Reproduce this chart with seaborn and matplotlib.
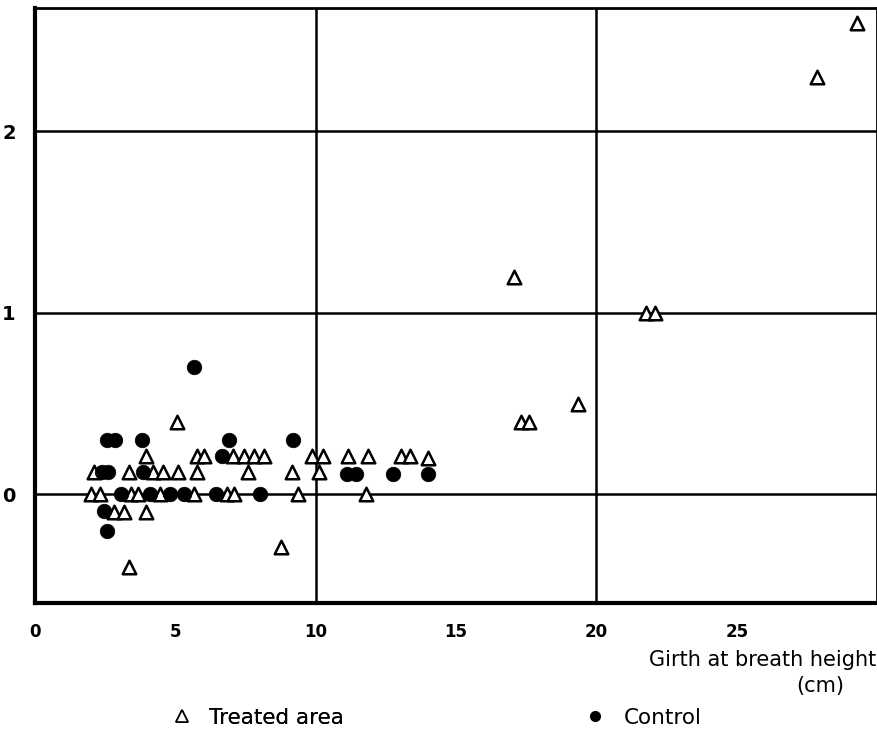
import pandas as pd
import seaborn as sns
import matplotlib.pyplot as plt
from matplotlib.lines import Line2D

# treated area (open triangles)
treated_x = [2.0, 2.3, 3.4, 3.65, 4.45, 5.65, 6.85, 7.1, 9.35, 11.8,
             2.1, 3.35, 4.2, 4.55, 5.1, 5.75, 7.6, 9.15, 10.1,
             3.95, 5.75, 6.0, 7.05, 7.45, 7.8, 8.15, 9.85, 10.25, 11.15, 11.85, 13.05, 13.35, 14.0,
             5.05, 2.8, 3.15, 3.95, 3.35, 8.75,
             17.05, 17.3, 17.6, 19.35, 21.75, 22.1, 27.85, 29.3]
treated_y = [0, 0, 0, 0, 0, 0, 0, 0, 0, 0,
             0.12, 0.12, 0.12, 0.12, 0.12, 0.12, 0.12, 0.12, 0.12,
             0.21, 0.21, 0.21, 0.21, 0.21, 0.21, 0.21, 0.21, 0.21, 0.21, 0.21, 0.21, 0.21, 0.20,
             0.4, -0.1, -0.1, -0.1, -0.4, -0.29,
             1.2, 0.4, 0.4, 0.5, 1.0, 1.0, 2.3, 2.6]

# control (filled circles)
control_x = [2.55, 2.85, 3.8, 6.9, 9.2, 5.65, 6.65,
             2.4, 2.6, 3.85, 11.1, 11.45, 12.75, 14.0,
             3.05, 4.1, 4.8, 5.3, 6.45, 8.0, 2.45, 2.55]
control_y = [0.3, 0.3, 0.3, 0.3, 0.3, 0.7, 0.21,
             0.12, 0.12, 0.12, 0.11, 0.11, 0.11, 0.11,
             0, 0, 0, 0, 0, 0, -0.09, -0.2]

treated = pd.DataFrame({'girth': treated_x, 'value': treated_y})
control = pd.DataFrame({'girth': control_x, 'value': control_y})

sns.set_style('white')
plt.rcParams['font.family'] = ['DejaVu Sans']
plt.rcParams['text.color'] = 'black'
plt.rcParams['xtick.color'] = 'black'
plt.rcParams['ytick.color'] = 'black'

fig = plt.figure(figsize=(8.78, 7.31), dpi=100)
ax = fig.add_axes([0.040, 0.175, 0.959, 0.814])

# grid lines at the major values
for gx in [10, 20]:
    ax.axvline(gx, color='black', lw=1.8, zorder=1)
for gy in [0, 1, 2]:
    ax.axhline(gy, color='black', lw=1.8, zorder=1)

sns.scatterplot(data=treated, x='girth', y='value', marker='^', s=95,
                facecolor='white', edgecolor='black', linewidth=1.8, ax=ax, zorder=3)
sns.scatterplot(data=control, x='girth', y='value', marker='o', s=110,
                color='black', edgecolor='black', linewidth=0.5, ax=ax, zorder=4)

ax.set_xlim(0, 30)
ax.set_ylim(-0.6, 2.68)
ax.set_xticks([0, 5, 10, 15, 20, 25])
ax.set_yticks([0, 1, 2])
ax.tick_params(axis='x', direction='out', length=6, width=1.5, labelsize=12, pad=8)
ax.tick_params(axis='y', direction='out', length=6, width=1.5, labelsize=14, pad=8)
for lbl in ax.get_xticklabels() + ax.get_yticklabels():
    lbl.set_fontweight('bold')
ax.set_xlabel('')
ax.set_ylabel('')
for side, w in [('left', 3), ('bottom', 3), ('top', 2), ('right', 2)]:
    ax.spines[side].set_visible(True)
    ax.spines[side].set_color('black')
    ax.spines[side].set_linewidth(w)

fig.text(0.998, 0.097, 'Girth at breath height', ha='right', va='center', fontsize=15)
fig.text(0.934, 0.061, '(cm)', ha='center', va='center', fontsize=15)

tri = Line2D([], [], marker='^', ls='', markerfacecolor='white', markeredgecolor='black',
             markersize=8, markeredgewidth=1.2, label='Treated area')
dot = Line2D([], [], marker='o', ls='', color='black', markersize=7, label='Control')
leg1 = fig.legend(handles=[tri], loc='center left', bbox_to_anchor=(0.1955, 0.018),
                  frameon=False, fontsize=15.5, handlelength=1.0, handletextpad=0.75,
                  borderpad=0, borderaxespad=0)
fig.add_artist(leg1)
fig.legend(handles=[dot], loc='center left', bbox_to_anchor=(0.6658, 0.018),
           frameon=False, fontsize=15.5, handlelength=1.0, handletextpad=0.8,
           borderpad=0, borderaxespad=0)

fig.savefig('out.png', dpi=100)
